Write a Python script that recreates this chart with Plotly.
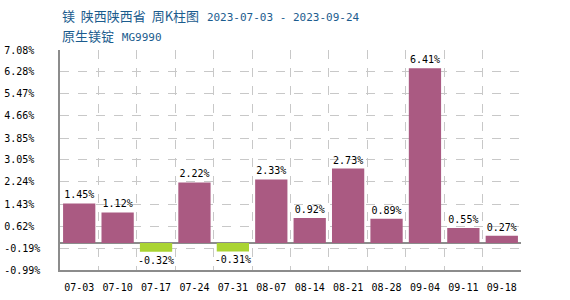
import plotly.graph_objects as go

categories = ["07-03", "07-10", "07-17", "07-24", "07-31", "08-07", "08-14",
              "08-21", "08-28", "09-04", "09-11", "09-18"]
values = [1.45, 1.12, -0.32, 2.22, -0.31, 2.33, 0.92, 2.73, 0.89, 6.41, 0.55, 0.27]
y_ticks = [-0.99, -0.19, 0.62, 1.43, 2.24, 3.05, 3.85, 4.66, 5.47, 6.28, 7.08]

UP = "#AA5A82"
DOWN = "#AAD433"
MONO = "DejaVu Sans Mono"
CJK = "Noto Sans CJK SC"
TITLE_C = "#1B5C8E"
GRID = "#c8c8c8"
AXIS = "#8c8c8c"

x = list(range(len(categories)))
colors = [UP if v >= 0 else DOWN for v in values]
texts = [f"{v:.2f}%" for v in values]
xr = [-0.5, len(categories) - 0.5]
# left-aligned look: pad labels to equal width in monospace
ytext = []
for t in y_ticks:
    s = f"{t:.2f}%"
    ytext.append(s + "&nbsp;" * (6 - len(s)))

fig = go.Figure()
fig.add_trace(go.Bar(
    x=x, y=values, marker=dict(color=colors, line=dict(width=0)),
    text=texts, textposition="outside", cliponaxis=False,
    constraintext="none",
    textfont=dict(family=MONO, size=10, color="#000000"),
    width=0.84, hoverinfo="skip",
))
# invisible helper trace so the label axis renders
fig.add_trace(go.Scatter(
    x=x, y=values, xaxis="x2", mode="markers",
    marker=dict(opacity=0), hoverinfo="skip", showlegend=False,
))

fig.update_layout(
    width=570, height=300,
    margin=dict(l=60, r=49, t=50, b=30, autoexpand=False),
    paper_bgcolor="white", plot_bgcolor="white",
    showlegend=False,
    font=dict(family=MONO, size=10, color="#000000"),
    xaxis=dict(
        range=xr, automargin=False,
        tickmode="linear", tick0=0.5, dtick=1,
        showticklabels=False, ticks="",
        showgrid=True, gridcolor=GRID, griddash="dash", gridwidth=1,
        zeroline=False,
        showline=True, linecolor=AXIS, linewidth=1.5,
        fixedrange=True,
    ),
    xaxis2=dict(
        overlaying="x", anchor="y", side="bottom",
        range=xr, automargin=False,
        tickmode="array", tickvals=x, ticktext=categories,
        showgrid=False, zeroline=False, showline=False,
        ticks="", ticklabelstandoff=10,
        fixedrange=True,
    ),
    yaxis=dict(
        range=[y_ticks[0], y_ticks[-1]], automargin=False,
        tickmode="array", tickvals=y_ticks, ticktext=ytext,
        showgrid=True, gridcolor=GRID, griddash="dash", gridwidth=1,
        zeroline=True, zerolinecolor=AXIS, zerolinewidth=1.5,
        showline=True, linecolor=AXIS, linewidth=1.5,
        ticks="", ticklabelstandoff=16,
        fixedrange=True,
    ),
)

fig.add_annotation(
    xref="paper", yref="paper", x=0, y=1, xanchor="left", yanchor="middle",
    yshift=35, showarrow=False, align="left",
    text=(f"<span style='font-family:{CJK};font-size:13px'>镁&nbsp; 陕西陕西省&nbsp; 周K柱图</span> "
          f"<span style='font-family:{MONO};font-size:11px'>2023-07-03 - 2023-09-24</span>"),
    font=dict(size=13, color=TITLE_C),
)
fig.add_annotation(
    xref="paper", yref="paper", x=0, y=1, xanchor="left", yanchor="middle",
    yshift=15, showarrow=False, align="left",
    text=(f"<span style='font-family:{CJK};font-size:13px'>原生镁锭</span> "
          f"<span style='font-family:{MONO};font-size:11px'>MG9990</span>"),
    font=dict(size=13, color=TITLE_C),
)

fig.write_html("out.html")
